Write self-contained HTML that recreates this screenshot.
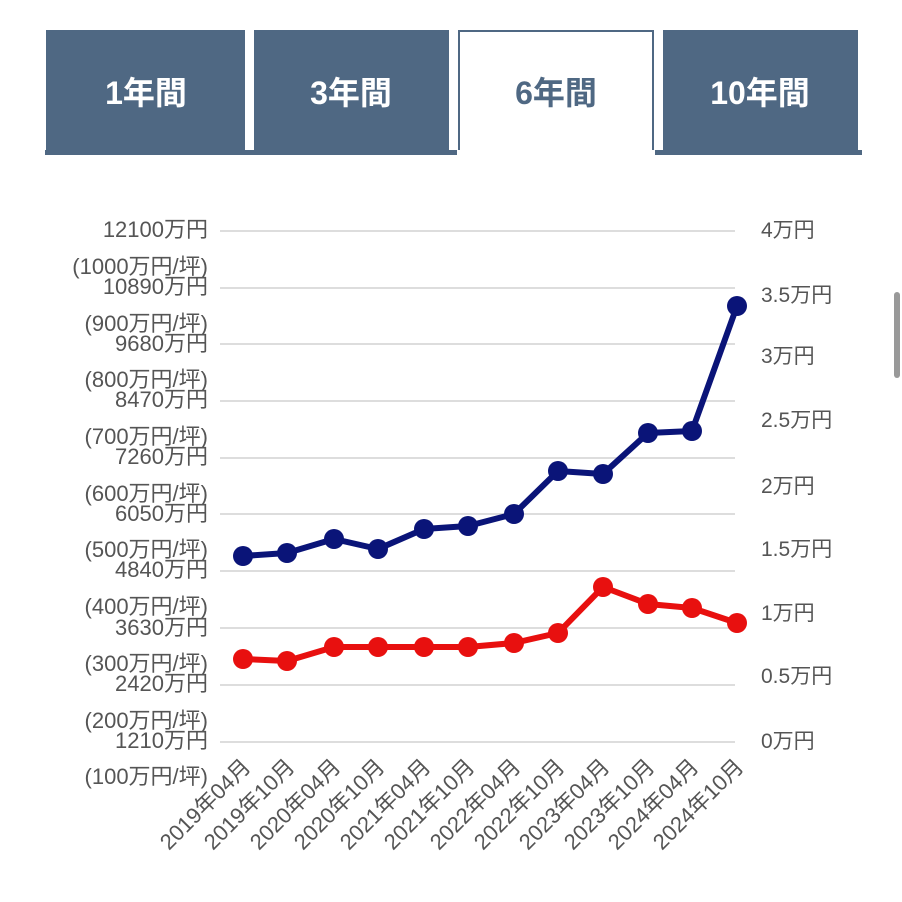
<!DOCTYPE html>
<html><head><meta charset="utf-8"><style>
body{margin:0;width:902px;height:902px;background:#fff;overflow:hidden}
svg{display:block}
text{font-family:"Liberation Sans","Noto Sans CJK JP",sans-serif}
</style></head><body>
<svg width="902" height="902" viewBox="0 0 902 902">
<rect x="45" y="150" width="817" height="5" fill="#4f6883"/>
<rect x="46" y="30" width="199" height="124" fill="#4f6883"/>
<rect x="254" y="30" width="195" height="124" fill="#4f6883"/>
<rect x="459" y="31" width="194" height="125" fill="#fff" stroke="#4f6883" stroke-width="2"/>
<rect x="457" y="150" width="198" height="8" fill="#fff"/>
<rect x="663" y="30" width="195" height="124" fill="#4f6883"/>
<g font-size="32" font-weight="bold" text-anchor="middle">
<text x="146" y="104" fill="#fff">1年間</text>
<text x="351" y="104" fill="#fff">3年間</text>
<text x="556" y="104" fill="#4f6883">6年間</text>
<text x="760" y="104" fill="#fff">10年間</text>
</g>
<rect x="894" y="292" width="6" height="86" rx="3" fill="#999"/>
<g stroke="#ddd" stroke-width="2">
<line x1="220" x2="735" y1="231" y2="231"/><line x1="220" x2="735" y1="288" y2="288"/>
<line x1="220" x2="735" y1="344" y2="344"/><line x1="220" x2="735" y1="401" y2="401"/>
<line x1="220" x2="735" y1="458" y2="458"/><line x1="220" x2="735" y1="514" y2="514"/>
<line x1="220" x2="735" y1="571" y2="571"/><line x1="220" x2="735" y1="628" y2="628"/>
<line x1="220" x2="735" y1="685" y2="685"/><line x1="220" x2="735" y1="742" y2="742"/>
</g>
<g font-size="22" fill="#555" text-anchor="end">
<text x="208" y="237">12100万円</text>
<text x="208" y="274">(1000万円/坪)</text>
<text x="208" y="294">10890万円</text>
<text x="208" y="331">(900万円/坪)</text>
<text x="208" y="351">9680万円</text>
<text x="208" y="387">(800万円/坪)</text>
<text x="208" y="407">8470万円</text>
<text x="208" y="444">(700万円/坪)</text>
<text x="208" y="464">7260万円</text>
<text x="208" y="501">(600万円/坪)</text>
<text x="208" y="521">6050万円</text>
<text x="208" y="557">(500万円/坪)</text>
<text x="208" y="577">4840万円</text>
<text x="208" y="614">(400万円/坪)</text>
<text x="208" y="635">3630万円</text>
<text x="208" y="671">(300万円/坪)</text>
<text x="208" y="691">2420万円</text>
<text x="208" y="728">(200万円/坪)</text>
<text x="208" y="748">1210万円</text>
<text x="208" y="784">(100万円/坪)</text>
</g>
<g font-size="21" fill="#555">
<text x="761" y="237">4万円</text>
<text x="761" y="302">3.5万円</text>
<text x="761" y="363">3万円</text>
<text x="761" y="427">2.5万円</text>
<text x="761" y="493">2万円</text>
<text x="761" y="556">1.5万円</text>
<text x="761" y="620">1万円</text>
<text x="761" y="683">0.5万円</text>
<text x="761" y="748">0万円</text>
</g>
<g font-size="22" fill="#555" text-anchor="end">
<text transform="translate(252,768) rotate(-45)">2019年04月</text>
<text transform="translate(296,768) rotate(-45)">2019年10月</text>
<text transform="translate(342,768) rotate(-45)">2020年04月</text>
<text transform="translate(386,768) rotate(-45)">2020年10月</text>
<text transform="translate(432,768) rotate(-45)">2021年04月</text>
<text transform="translate(476,768) rotate(-45)">2021年10月</text>
<text transform="translate(522,768) rotate(-45)">2022年04月</text>
<text transform="translate(566,768) rotate(-45)">2022年10月</text>
<text transform="translate(611,768) rotate(-45)">2023年04月</text>
<text transform="translate(656,768) rotate(-45)">2023年10月</text>
<text transform="translate(700,768) rotate(-45)">2024年04月</text>
<text transform="translate(745,768) rotate(-45)">2024年10月</text>
</g>
<g fill="#0a1478" stroke="#0a1478">
<polyline fill="none" stroke-width="6" stroke-linejoin="round" points="243,556 287,553 334,539 378,549 424,529 468,526 514,514 558,471 603,474 648,433 692,431 737,306"/>
<g stroke="none">
<circle cx="243" cy="556" r="10"/><circle cx="287" cy="553" r="10"/><circle cx="334" cy="539" r="10"/><circle cx="378" cy="549" r="10"/><circle cx="424" cy="529" r="10"/><circle cx="468" cy="526" r="10"/><circle cx="514" cy="514" r="10"/><circle cx="558" cy="471" r="10"/><circle cx="603" cy="474" r="10"/><circle cx="648" cy="433" r="10"/><circle cx="692" cy="431" r="10"/><circle cx="737" cy="306" r="10"/>
</g></g>
<g fill="#e8100f" stroke="#e8100f">
<polyline fill="none" stroke-width="6" stroke-linejoin="round" points="243,659 287,661 334,647 378,647 424,647 468,647 514,643 558,633 603,587 648,604 692,608 737,623"/>
<g stroke="none">
<circle cx="243" cy="659" r="10"/><circle cx="287" cy="661" r="10"/><circle cx="334" cy="647" r="10"/><circle cx="378" cy="647" r="10"/><circle cx="424" cy="647" r="10"/><circle cx="468" cy="647" r="10"/><circle cx="514" cy="643" r="10"/><circle cx="558" cy="633" r="10"/><circle cx="603" cy="587" r="10"/><circle cx="648" cy="604" r="10"/><circle cx="692" cy="608" r="10"/><circle cx="737" cy="623" r="10"/>
</g></g>
</svg>
</body></html>
